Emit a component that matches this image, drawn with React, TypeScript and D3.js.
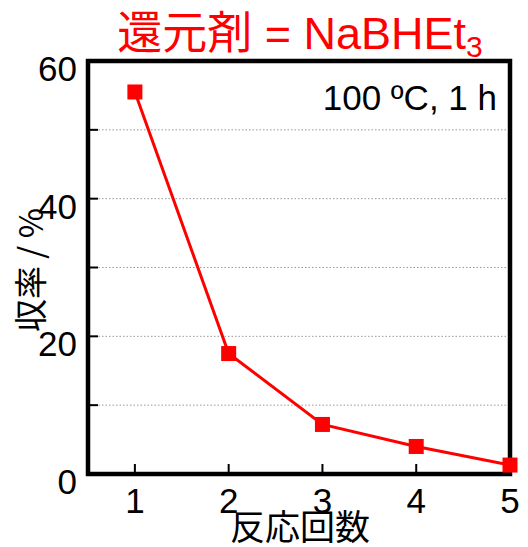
import React, { useEffect, useRef } from "react";
import * as d3 from "d3";

const cycles = [1, 2, 3, 4, 5];
const yields = [55.5, 17.5, 7.2, 4.0, 1.3];
const yTicks = [0, 20, 40, 60];
const gridTicks = [10, 20, 30, 40, 50];
const xTicks = [1, 2, 3, 4, 5];

const App = () => {
  const svgRef = useRef<SVGSVGElement>(null);

  useEffect(() => {
    const svg = d3.select(svgRef.current);
    svg.selectAll("*").remove();

    const width = 528;
    const height = 547;
    const margin = { top: 61, right: 18, bottom: 73, left: 88 };
    const font = "Liberation Sans, Arial, sans-serif";
    const cjk = "Noto Sans CJK JP, sans-serif";

    svg.attr("width", width).attr("height", height);

    const x = d3.scaleLinear()
      .domain([0.5, 5])
      .range([margin.left, width - margin.right]);

    const y = d3.scaleLinear()
      .domain([0, 60])
      .range([height - margin.bottom, margin.top]);

    // dotted grid
    svg.append("g")
      .selectAll("line")
      .data(gridTicks)
      .enter()
      .append("line")
      .attr("x1", margin.left)
      .attr("x2", width - margin.right)
      .attr("y1", d => y(d))
      .attr("y2", d => y(d))
      .attr("stroke", "#999")
      .attr("stroke-width", 1)
      .attr("stroke-dasharray", "1.5,2");

    // inner ticks
    svg.append("g")
      .selectAll("line")
      .data(gridTicks)
      .enter()
      .append("line")
      .attr("x1", margin.left)
      .attr("x2", margin.left + 10)
      .attr("y1", d => y(d))
      .attr("y2", d => y(d))
      .attr("stroke", "#000")
      .attr("stroke-width", 2);

    svg.append("g")
      .selectAll("line")
      .data(xTicks.slice(0, 4))
      .enter()
      .append("line")
      .attr("x1", d => x(d))
      .attr("x2", d => x(d))
      .attr("y1", y(0))
      .attr("y2", y(0) - 10)
      .attr("stroke", "#000")
      .attr("stroke-width", 2);

    // frame
    svg.append("rect")
      .attr("x", margin.left)
      .attr("y", margin.top)
      .attr("width", width - margin.left - margin.right)
      .attr("height", height - margin.top - margin.bottom)
      .attr("fill", "none")
      .attr("stroke", "#000")
      .attr("stroke-width", 4.5);

    // tick labels
    svg.append("g")
      .selectAll("text")
      .data(yTicks)
      .enter()
      .append("text")
      .attr("x", 77)
      .attr("y", d => y(d) + 20)
      .attr("text-anchor", "end")
      .attr("font-family", font)
      .attr("font-size", 35)
      .text(d => d);

    svg.append("g")
      .selectAll("text")
      .data(xTicks)
      .enter()
      .append("text")
      .attr("x", d => x(d))
      .attr("y", 513)
      .attr("text-anchor", "middle")
      .attr("font-family", font)
      .attr("font-size", 35)
      .text(d => d);

    // series
    const pts = cycles.map((c, i) => ({ c, v: yields[i] }));
    const line = d3.line<{ c: number; v: number }>()
      .x(d => x(d.c))
      .y(d => y(d.v));

    svg.append("path")
      .datum(pts)
      .attr("fill", "none")
      .attr("stroke", "#ff0000")
      .attr("stroke-width", 3)
      .attr("d", line);

    svg.selectAll("rect.pt")
      .data(pts)
      .enter()
      .append("rect")
      .attr("class", "pt")
      .attr("x", d => x(d.c) - 7.5)
      .attr("y", d => y(d.v) - 7.5)
      .attr("width", 15)
      .attr("height", 15)
      .attr("fill", "#ff0000");

    // title
    const title = svg.append("text")
      .attr("x", 300)
      .attr("y", 49)
      .attr("text-anchor", "middle")
      .attr("fill", "#ff0000")
      .attr("font-size", 45)
      .attr("font-family", font);
    title.append("tspan").attr("font-family", cjk).text("還元剤");
    title.append("tspan").text(" = NaBHEt");
    title.append("tspan").attr("font-size", 30).attr("dy", 8).text("3");

    // annotation
    svg.append("text")
      .attr("x", 497)
      .attr("y", 110)
      .attr("text-anchor", "end")
      .attr("font-family", font)
      .attr("font-size", 35)
      .text("100 ºC, 1 h");

    // axis titles
    svg.append("text")
      .attr("transform", "translate(43,270) rotate(-90)")
      .attr("text-anchor", "middle")
      .attr("font-family", cjk)
      .attr("font-size", 33)
      .text("収率 / %");

    svg.append("text")
      .attr("x", 300)
      .attr("y", 540)
      .attr("text-anchor", "middle")
      .attr("font-family", cjk)
      .attr("font-size", 35)
      .text("反応回数");
  }, []);

  return <svg ref={svgRef} style={{ position: "absolute", left: 0, top: 0 }}></svg>;
};

export default App;
